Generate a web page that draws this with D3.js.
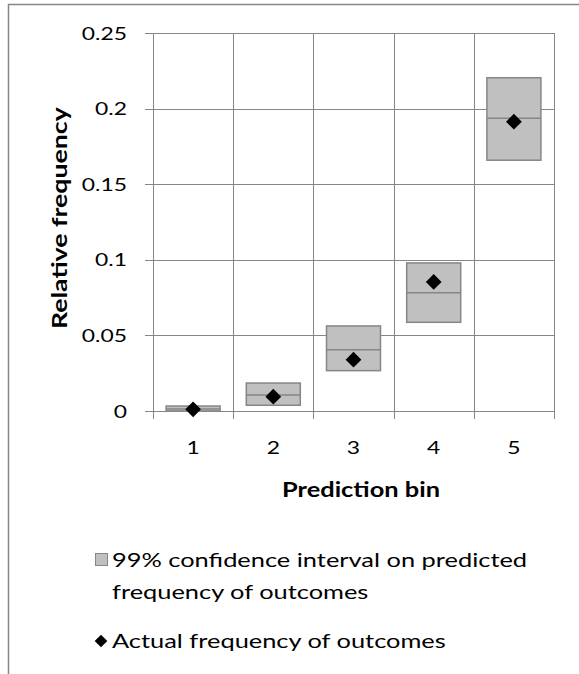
<!DOCTYPE html>
<html>
<head>
<meta charset="utf-8">
<script src="https://cdn.jsdelivr.net/npm/d3@7"></script>
<style>
  body { margin: 0; background: #ffffff; }
  text { font-family: Lato, "Open Sans", sans-serif; fill: #000000; }
</style>
</head>
<body>
<svg id="chart" width="579" height="674"></svg>
<script>
// data
let bins        = [ "1", "2", "3", "4", "5" ];
let ciLow       = [ 0.0000, 0.0038, 0.0267, 0.0587, 0.1660 ];
let ciHigh      = [ 0.0033, 0.0185, 0.0563, 0.0980, 0.2206 ];
let ciMid       = [ 0.0013, 0.0106, 0.0406, 0.0783, 0.1937 ];
let actualFreq  = [ 0.0011, 0.0095, 0.0340, 0.0854, 0.1915 ];
let yTicks      = [ 0, 0.05, 0.1, 0.15, 0.2, 0.25 ];
let yTickLabels = [ "0", "0.05", "0.1", "0.15", "0.2", "0.25" ];
let legendText  = [ [ "99% confidence interval on predicted", "frequency of outcomes" ], [ "Actual frequency of outcomes" ] ];

let W = 579, H = 674;
let plotL = 153, plotR = 554, plotT = 33.3, plotB = 411;
let gridClr = "#868686", boxFill = "#c0c0c0";
let SX = 1.27 ; // glyphs in the reference run wide

let svg = d3.select("#chart");

// chart area border (cropped on right and bottom)
svg.append("path")
	.attr("d", "M8.5," + H + " L8.5,4.5 L" + W + ",4.5")
	.attr("fill", "none")
	.attr("stroke", gridClr)
	.attr("stroke-width", 1.5);

let x = d3.scaleBand().domain(bins).range([ plotL, plotR ]).paddingInner(0).paddingOuter(0);
let y = d3.scaleLinear().domain([ 0, 0.25 ]).range([ plotB, plotT ]);

let grid = svg.append("g").attr("stroke", gridClr).attr("stroke-width", 1.3).attr("shape-rendering", "crispEdges");

// horizontal grid lines + left ticks
grid.selectAll("line.h").data(yTicks).enter().append("line")
	.attr("class", "h")
	.attr("x1", plotL - 8).attr("x2", plotR)
	.attr("y1", d => Math.round(y(d)) + 0.5).attr("y2", d => Math.round(y(d)) + 0.5);

// vertical grid lines at category boundaries, ticks below the axis
let bounds = bins.map(b => x(b)).concat([ x(bins[bins.length-1]) + x.bandwidth() ]);
grid.selectAll("line.v").data(bounds).enter().append("line")
	.attr("class", "v")
	.attr("x1", d => Math.round(d) + 0.5).attr("x2", d => Math.round(d) + 0.5)
	.attr("y1", plotT).attr("y2", plotB + 8);

// y tick labels
svg.append("g").selectAll("text").data(yTicks).enter().append("text")
	.attr("transform", d => "translate(" + 127 + "," + (y(d) + 6.5) + ") scale(" + SX + ",1)")
	.attr("text-anchor", "end")
	.style("font-size", "18px")
	.text((d, i) => yTickLabels[i]);

// x tick labels
svg.append("g").selectAll("text").data(bins).enter().append("text")
	.attr("transform", d => "translate(" + (x(d) + x.bandwidth() / 2) + "," + 454 + ") scale(" + SX + ",1)")
	.attr("text-anchor", "middle")
	.style("font-size", "18px")
	.text(d => d);

// axis titles
svg.append("text")
	.attr("transform", "translate(361,497) scale(" + SX + ",1)")
	.attr("text-anchor", "middle")
	.style("font-size", "20px").style("font-weight", "bold")
	.text("Prediction bin");

svg.append("text")
	.attr("transform", "translate(67," + ((plotT + plotB) / 2 - 4) + ") rotate(-90) scale(" + SX + ",1)")
	.attr("text-anchor", "middle")
	.style("font-size", "21px").style("font-weight", "bold")
	.text("Relative frequency");

// confidence boxes
let boxW = 54;
let rows = bins.map((b, i) => ({ bin: b, lo: ciLow[i], hi: ciHigh[i], mid: ciMid[i], act: actualFreq[i] }));
let boxes = svg.append("g");
boxes.selectAll("rect").data(rows).enter().append("rect")
	.attr("x", d => x(d.bin) + x.bandwidth() / 2 - boxW / 2)
	.attr("y", d => y(d.hi))
	.attr("width", boxW)
	.attr("height", d => y(d.lo) - y(d.hi))
	.attr("fill", boxFill)
	.attr("stroke", gridClr)
	.attr("stroke-width", 1.5);

boxes.selectAll("line").data(rows).enter().append("line")
	.attr("x1", d => x(d.bin) + x.bandwidth() / 2 - boxW / 2)
	.attr("x2", d => x(d.bin) + x.bandwidth() / 2 + boxW / 2)
	.attr("y1", d => y(d.mid)).attr("y2", d => y(d.mid))
	.attr("stroke", gridClr)
	.attr("stroke-width", 1.5);

// actual frequency diamonds
let diamond = d3.symbol().type(d3.symbolSquare).size(124);
svg.append("g").selectAll("path").data(rows).enter().append("path")
	.attr("d", diamond)
	.attr("transform", d => "translate(" + (x(d.bin) + x.bandwidth() / 2) + "," + y(d.act) + ") rotate(45)")
	.attr("fill", "#000000");

// legend
let lg = svg.append("g");
lg.append("rect")
	.attr("x", 95.5).attr("y", 553.5).attr("width", 12).attr("height", 12)
	.attr("fill", boxFill).attr("stroke", gridClr).attr("stroke-width", 1);
legendText[0].forEach((t, i) => {
	lg.append("text")
		.attr("transform", "translate(" + 112 + "," + (567 + i * 32) + ") scale(" + SX + ",1)")
		.style("font-size", "20px")
		.text(t);
});
lg.append("path")
	.attr("d", d3.symbol().type(d3.symbolSquare).size(80))
	.attr("transform", "translate(101,641) rotate(45)")
	.attr("fill", "#000000");
lg.append("text")
	.attr("transform", "translate(112,648) scale(" + SX + ",1)")
	.style("font-size", "20px")
	.text(legendText[1][0]);
</script>
</body>
</html>
